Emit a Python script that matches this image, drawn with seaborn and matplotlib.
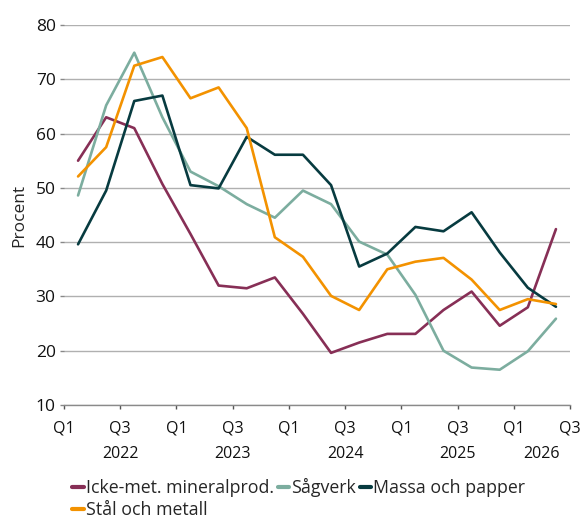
import pandas as pd
import seaborn as sns
import matplotlib.pyplot as plt
from matplotlib.transforms import blended_transform_factory

# kvartal och serier
quarters = ["2022Q1", "2022Q2", "2022Q3", "2022Q4",
            "2023Q1", "2023Q2", "2023Q3", "2023Q4",
            "2024Q1", "2024Q2", "2024Q3", "2024Q4",
            "2025Q1", "2025Q2", "2025Q3", "2025Q4",
            "2026Q1", "2026Q2"]
icke = [55, 63, 61, 50.7, 41.5, 32, 31.5, 33.5, 26.8, 19.6, 21.5, 23.1, 23.1, 27.5, 30.9, 24.6, 28, 42.4]
sagverk = [48.6, 65.2, 74.9, 63, 53, 50.3, 47, 44.5, 49.5, 47, 40.1, 37.7, 30.3, 20, 16.9, 16.5, 19.9, 25.9]
massa = [39.6, 49.5, 66, 67, 50.5, 49.9, 59.4, 56.1, 56.1, 50.5, 35.5, 37.9, 42.8, 42, 45.5, 38.1, 31.6, 28.1]
stal = [52.1, 57.5, 72.5, 74.1, 66.5, 68.5, 61, 40.9, 37.3, 30.1, 27.5, 35, 36.4, 37.1, 33.1, 27.5, 29.5, 28.6]

series_names = ["Icke-met. mineralprod.", "Sågverk", "Massa och papper", "Stål och metall"]
colors = ["#872F56", "#7CAD9F", "#073B40", "#F39200"]
tick_labels = ["Q1", "Q3", "Q1", "Q3", "Q1", "Q3", "Q1", "Q3", "Q1", "Q3"]

df = pd.DataFrame({"kvartal": quarters,
                   series_names[0]: icke,
                   series_names[1]: sagverk,
                   series_names[2]: massa,
                   series_names[3]: stal})
df["pos"] = range(len(quarters))
long = df.melt(id_vars=["kvartal", "pos"], var_name="serie", value_name="procent")

sns.set_style("white")
plt.rcParams["font.family"] = ["Open Sans", "DejaVu Sans"]

fig = plt.figure(figsize=(5.8, 5.18), dpi=100)
ax = fig.add_axes([64 / 580, 1 - 405 / 518, (570 - 64) / 580, (405 - 25) / 518])

sns.lineplot(data=long, x="pos", y="procent", hue="serie", hue_order=series_names,
             palette=colors, linewidth=1.9, ax=ax)

ax.set_xlim(-0.5, len(quarters) - 0.5)
ax.set_ylim(10, 80)
ax.set_yticks(range(10, 81, 10))
ax.set_xticks([-0.5 + 2 * i for i in range(len(tick_labels))])
ax.set_xticklabels(tick_labels)
ax.set_xlabel("")
ax.set_ylabel("Procent", fontsize=12.5, labelpad=6)

ax.yaxis.grid(True, color="#b0b0b0", linewidth=1)
ax.set_axisbelow(True)
for s in ["left", "right", "top"]:
    ax.spines[s].set_visible(False)
ax.spines["bottom"].set_color("#8a8a8a")
ax.spines["bottom"].set_linewidth(1)
ax.tick_params(axis="y", which="both", left=True, length=3, width=1, color="#888888",
               labelsize=12.5, pad=3, labelcolor="#111111")
ax.tick_params(axis="x", bottom=True, length=3, width=1, color="#555555",
               labelsize=11.5, pad=8, labelcolor="#111111")

# årtal centrerade under respektive års kvartal
trans = blended_transform_factory(ax.transData, ax.transAxes)
df["ar"] = df["kvartal"].str[:4]
for year, grp in df.groupby("ar"):
    ax.text(grp["pos"].mean(), -0.128, year, transform=trans, ha="center", va="center",
            fontsize=11.5, color="#111111")

handles, labels = ax.get_legend_handles_labels()
ax.get_legend().remove()
order = [0, 3, 1, 2]
fig.legend([handles[i] for i in order], [labels[i] for i in order],
           loc="upper left", bbox_to_anchor=(60 / 580, 1 - 466 / 518), ncol=3,
           frameon=False, fontsize=12.8, handlelength=0.65, handletextpad=0.12,
           columnspacing=0.2, labelspacing=0.2, borderpad=0.2)
for line in fig.legends[0].get_lines():
    line.set_linewidth(3)

fig.savefig("out.png", dpi=100)
